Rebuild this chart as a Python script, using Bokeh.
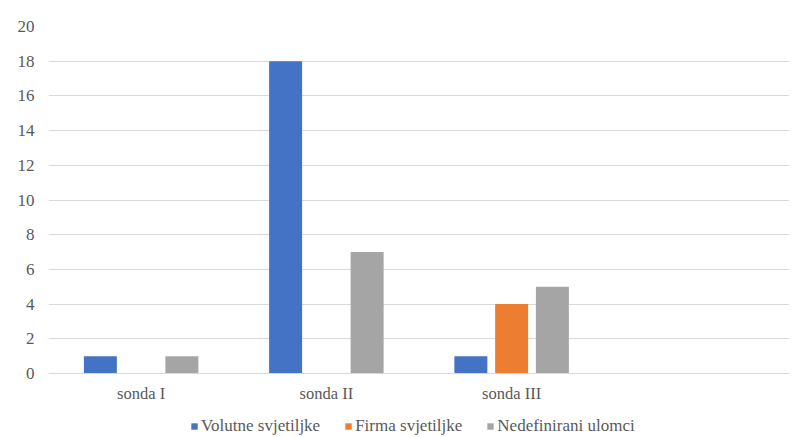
from bokeh.plotting import figure
from bokeh.models import ColumnDataSource, FactorRange, Range1d, Legend, LegendItem, FixedTicker
from bokeh.transform import dodge
from bokeh.embed import file_html
from bokeh.resources import INLINE

categories = ["sonda I", "sonda II", "sonda III"]
all_factors = ["sonda I", "sonda II", "sonda III", " "]
volutne = [1, 18, 1]
firma = [0, 0, 4]
nedefinirani = [1, 7, 5]
series_names = ["Volutne svjetiljke", "Firma svjetiljke", "Nedefinirani ulomci"]
y_ticks = [0, 2, 4, 6, 8, 10, 12, 14, 16, 18, 20]

FONT = "Liberation Serif"
TXT = "#595959"
GRID = "#d9d9d9"

H = 437
TOP = 26
ZERO_Y = 373
px_per_unit = (ZERO_Y - TOP) / 20.0
y_start = -(H - ZERO_Y) / px_per_unit

src = ColumnDataSource(dict(cat=categories, v=volutne, f=firma, n=nedefinirani))

p = figure(width=790, height=H, x_range=FactorRange(*all_factors), y_range=Range1d(y_start, 20),
           output_backend="svg", toolbar_location=None,
           min_border_left=48, min_border_right=1, min_border_top=TOP, min_border_bottom=0)
p.x_range.range_padding = 0
p.x_range.factor_padding = 0
p.outline_line_color = None
p.background_fill_color = "white"
p.border_fill_color = "white"

bw = 0.178
r1 = p.vbar(x=dodge("cat", -0.22, range=p.x_range), top="v", width=bw, source=src,
            fill_color="#4472C4", line_color=None)
r2 = p.vbar(x=dodge("cat", 0.0, range=p.x_range), top="f", width=bw, source=src,
            fill_color="#ED7D31", line_color=None)
r3 = p.vbar(x=dodge("cat", 0.22, range=p.x_range), top="n", width=bw, source=src,
            fill_color="#A5A5A5", line_color=None)

p.xgrid.grid_line_color = None
p.ygrid.grid_line_color = GRID
p.ygrid.grid_line_width = 1
p.yaxis.ticker = FixedTicker(ticks=y_ticks)

p.yaxis.axis_line_color = None
p.yaxis.major_tick_line_color = None
p.yaxis.minor_tick_line_color = None
p.yaxis.major_tick_out = 0
p.yaxis.major_label_standoff = 14
p.yaxis.major_label_text_font = FONT
p.yaxis.major_label_text_font_size = "17px"
p.yaxis.major_label_text_color = TXT

p.xaxis.fixed_location = 0
p.xaxis.axis_line_color = GRID
p.xaxis.major_tick_line_color = None
p.xaxis.minor_tick_line_color = None
p.xaxis.major_tick_out = 0
p.xaxis.major_tick_in = 0
p.xaxis.major_label_standoff = 10
p.xaxis.major_label_text_font = FONT
p.xaxis.major_label_text_font_size = "16.5px"
p.xaxis.major_label_text_color = TXT

legend = Legend(items=[LegendItem(label=series_names[0], renderers=[r1]),
                       LegendItem(label=series_names[1], renderers=[r2]),
                       LegendItem(label=series_names[2], renderers=[r3])],
                orientation="horizontal", location=(142, 1),
                glyph_width=8, glyph_height=8, label_standoff=3, spacing=24,
                padding=0, margin=0, border_line_color=None, background_fill_alpha=0,
                label_text_font=FONT, label_text_font_size="17px", label_text_color=TXT,
                label_height=18)
p.add_layout(legend, "center")

open("out.html", "w").write(file_html(p, INLINE))
